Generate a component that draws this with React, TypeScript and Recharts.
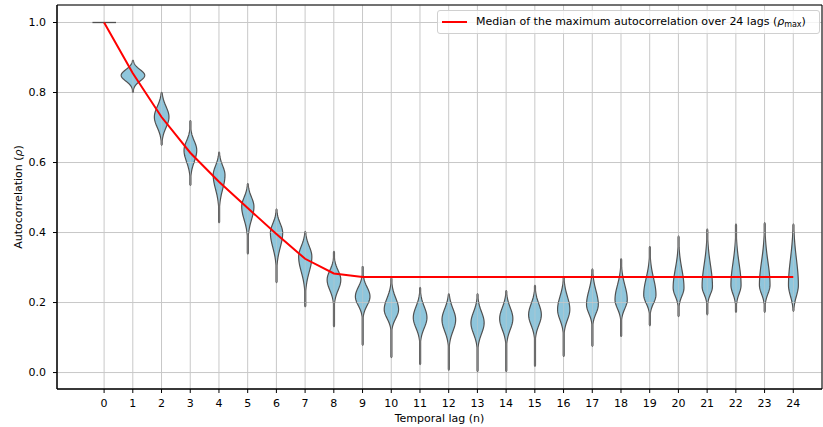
import React from 'react';
import {
  ComposedChart, Bar, Line, XAxis, YAxis, CartesianGrid, ReferenceArea, Label,
} from 'recharts';

// autocorrelation per temporal lag
const LAGS = [0, 1, 2, 3, 4, 5, 6, 7, 8, 9, 10, 11, 12, 13, 14, 15, 16, 17, 18, 19, 20, 21, 22, 23, 24];
const LO = [1.0, 0.801, 0.65, 0.535, 0.428, 0.339, 0.257, 0.188, 0.131, 0.078, 0.043, 0.023, 0.007, 0.003, 0.003, 0.018, 0.046, 0.075, 0.103, 0.134, 0.16, 0.165, 0.172, 0.172, 0.175];
const Q1 = [1.0, 0.838, 0.71, 0.613, 0.537, 0.449, 0.371, 0.302, 0.245, 0.2, 0.163, 0.137, 0.129, 0.121, 0.133, 0.145, 0.16, 0.177, 0.191, 0.206, 0.226, 0.231, 0.233, 0.233, 0.229];
const MODE = [1.0, 0.849, 0.73, 0.635, 0.564, 0.474, 0.399, 0.331, 0.265, 0.217, 0.18, 0.157, 0.151, 0.142, 0.154, 0.165, 0.18, 0.194, 0.208, 0.222, 0.242, 0.246, 0.25, 0.25, 0.25];
const Q3 = [1.0, 0.86, 0.75, 0.653, 0.582, 0.492, 0.417, 0.351, 0.283, 0.235, 0.202, 0.178, 0.172, 0.163, 0.175, 0.186, 0.205, 0.221, 0.236, 0.254, 0.278, 0.288, 0.292, 0.295, 0.3];
const HI = [1.0, 0.892, 0.8, 0.72, 0.63, 0.54, 0.467, 0.403, 0.346, 0.302, 0.27, 0.243, 0.225, 0.225, 0.234, 0.249, 0.273, 0.296, 0.325, 0.36, 0.39, 0.41, 0.424, 0.428, 0.424];
// peak density relative to the widest violin
const DENSITY = [1.0, 1.0, 0.62, 0.54, 0.5, 0.52, 0.52, 0.56, 0.58, 0.62, 0.61, 0.58, 0.58, 0.56, 0.56, 0.54, 0.52, 0.5, 0.52, 0.52, 0.46, 0.44, 0.43, 0.45, 0.42];
// median of the maximum autocorrelation over 24 lags
const MEDIAN_MAX = [1.0, 0.855, 0.73, 0.628, 0.545, 0.47, 0.396, 0.325, 0.283, 0.273, 0.273, 0.273, 0.273, 0.273, 0.273, 0.273, 0.273, 0.273, 0.273, 0.273, 0.273, 0.273, 0.273, 0.273, 0.273];

const Y_TICKS = [0, 0.2, 0.4, 0.6, 0.8, 1.0];

const W = 823;
const H = 427;
const Y_AXIS_W = 57;
const X_DOMAIN: [number, number] = [-1.64, 25];
const Y_DOMAIN: [number, number] = [-0.047, 1.05];
const LAG_PX = (W - Y_AXIS_W - 1) / (X_DOMAIN[1] - X_DOMAIN[0]);
const HALF_PX = 0.41 * LAG_PX;

const FILL = '#8fc6dc';
const EDGE = '#505050';
const GRID = '#c8c8c8';
const FONT = '"DejaVu Sans", sans-serif';

const data = LAGS.map((lag, i) => ({
  lag,
  range: [LO[i], HI[i]],
  lo: LO[i], q1: Q1[i], mode: MODE[i], q3: Q3[i], hi: HI[i],
  dens: DENSITY[i],
  median: MEDIAN_MAX[i],
}));

function Violin(props: any) {
  const { x, y, width, height, payload } = props;
  const cx = x + width / 2;
  const { lo, q1, mode, q3, hi, dens } = payload;
  const peak = HALF_PX * dens;

  if (hi - lo < 1e-6) {
    return <line x1={cx - peak} x2={cx + peak} y1={y} y2={y} stroke={EDGE} strokeWidth={1.3} />;
  }

  const py = (v: number) => y + ((hi - v) / (hi - lo)) * height;
  const sUp = (q3 - mode) / 0.674;
  const sDn = (mode - q1) / 0.674;
  const half = (v: number) => {
    if (v <= lo || v >= hi) return 0;
    const s = v >= mode ? sUp : sDn;
    const d = (v - mode) / s;
    return Math.max(peak * Math.exp(-0.5 * d * d), 0.5);
  };

  const steps = 90;
  const vs: number[] = [];
  for (let k = 0; k <= steps; k++) vs.push(lo + ((hi - lo) * k) / steps);
  vs.push(mode);
  vs.sort((a, b) => a - b);

  const right = vs.map((v) => `${(cx + half(v)).toFixed(2)},${py(v).toFixed(2)}`);
  const left = vs.slice().reverse().map((v) => `${(cx - half(v)).toFixed(2)},${py(v).toFixed(2)}`);
  const d = `M${right.join('L')}L${left.join('L')}Z`;

  return (
    <g>
      <path d={d} fill={FILL} stroke={EDGE} strokeWidth={1.2} strokeLinejoin="round" />
      <line x1={cx} x2={cx} y1={py(hi)} y2={py(lo)} stroke={GRID} strokeWidth={0.8} opacity={0.6} />
      {Y_TICKS.filter((t) => t > lo && t < hi).map((t) => (
        <line key={t} x1={cx - half(t)} x2={cx + half(t)} y1={py(t)} y2={py(t)} stroke={GRID} strokeWidth={0.8} />
      ))}
    </g>
  );
}

function YLabel(props: any) {
  const vb = props.viewBox || { x: 0, y: 0, width: 0, height: 0 };
  const cx = 18;
  const cy = vb.y + vb.height / 2;
  return (
    <text
      x={cx}
      y={cy}
      transform={`rotate(-90 ${cx} ${cy})`}
      textAnchor="middle"
      dominantBaseline="central"
      fontSize={11}
      fontFamily={FONT}
      fill="#000"
    >
      Autocorrelation (<tspan fontStyle="italic">ρ</tspan>)
    </text>
  );
}

export default function App() {
  return (
    <div style={{ position: 'relative', width: W, height: H, fontFamily: FONT }}>
      <style>{'body{margin:0}'}</style>
      <ComposedChart
        width={W}
        height={H}
        data={data}
        margin={{ top: 5, right: 1, bottom: 0, left: 0 }}
      >
        <CartesianGrid stroke={GRID} strokeWidth={1} />
        <XAxis
          dataKey="lag"
          type="number"
          domain={X_DOMAIN}
          allowDataOverflow
          ticks={LAGS}
          interval={0}
          height={38}
          tickSize={4}
          tickMargin={6}
          stroke="#000"
          tick={{ fill: '#000', fontSize: 11, fontFamily: FONT }}
        >
          <Label value="Temporal lag (n)" position="insideBottom" offset={5} fill="#000" fontSize={11} fontFamily={FONT} />
        </XAxis>
        <YAxis
          type="number"
          domain={Y_DOMAIN}
          allowDataOverflow
          ticks={Y_TICKS}
          width={Y_AXIS_W}
          tickSize={4}
          tickMargin={7}
          stroke="#000"
          tickFormatter={(v: number) => v.toFixed(1)}
          tick={{ fill: '#000', fontSize: 11, fontFamily: FONT }}
        >
          <Label content={YLabel} />
        </YAxis>
        <Bar dataKey="range" barSize={Math.round(LAG_PX * 0.8)} shape={Violin} isAnimationActive={false} />
        <Line
          dataKey="median"
          type="linear"
          stroke="#ff0000"
          strokeWidth={2}
          dot={false}
          activeDot={false}
          isAnimationActive={false}
        />
        <ReferenceArea
          x1={X_DOMAIN[0]}
          x2={X_DOMAIN[1]}
          y1={Y_DOMAIN[0]}
          y2={Y_DOMAIN[1]}
          fill="none"
          stroke="#000"
          strokeWidth={1}
          ifOverflow="visible"
        />
      </ComposedChart>
      <div
        style={{
          position: 'absolute',
          top: 10,
          left: 437,
          width: 383,
          height: 24,
          boxSizing: 'border-box',
          border: '1px solid #d0d0d0',
          borderRadius: 3,
          background: 'rgba(255,255,255,0.8)',
          display: 'flex',
          alignItems: 'center',
          fontSize: 11,
          color: '#000',
          whiteSpace: 'nowrap',
        }}
      >
        <span style={{ display: 'inline-block', width: 25, height: 2, background: '#ff0000', marginLeft: 4, marginRight: 9 }} />
        <span>
          Median of the maximum autocorrelation over 24 lags (<i>ρ</i>
          <sub style={{ fontSize: 8, verticalAlign: -2 }}>max</sub>)
        </span>
      </div>
    </div>
  );
}
